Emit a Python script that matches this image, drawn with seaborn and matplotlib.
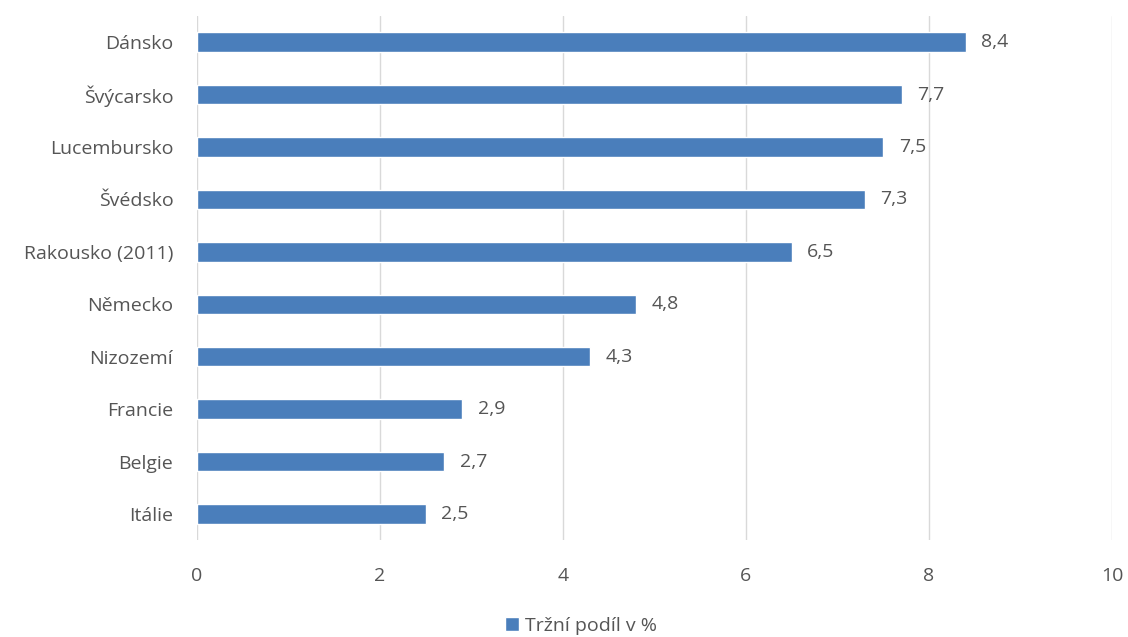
import matplotlib
matplotlib.use("Agg")
import matplotlib.pyplot as plt
import seaborn as sns
import pandas as pd
from matplotlib.patches import Patch

countries = ["Dánsko", "Švýcarsko", "Lucembursko", "Švédsko", "Rakousko (2011)",
             "Německo", "Nizozemí", "Francie", "Belgie", "Itálie"]
values = [8.4, 7.7, 7.5, 7.3, 6.5, 4.8, 4.3, 2.9, 2.7, 2.5]
series_name = "Tržní podíl v %"
x_ticks = [0, 2, 4, 6, 8, 10]

sns.set_theme(style="white")
plt.rcParams["font.family"] = ["Open Sans", "DejaVu Sans"]

df = pd.DataFrame({"country": countries, "value": values})
bar_color = "#4A7EBB"
text_color = "#555555"
fs = 14

fig = plt.figure(figsize=(11.28, 6.37), dpi=100)
ax = fig.add_axes([0.1746, 0.152, 0.8112, 0.823])

sns.barplot(data=df, y="country", x="value", color=bar_color, width=0.37,
            saturation=1, ax=ax, orient="h")

ax.set_xlim(0, 10)
ax.set_xticks(x_ticks)
ax.set_xticklabels([str(t) for t in x_ticks])
ax.xaxis.grid(True, color="#D9D9D9", linewidth=1)
ax.set_axisbelow(True)
for s in ax.spines.values():
    s.set_visible(False)
ax.set_xlabel("")
ax.set_ylabel("")
ax.tick_params(axis="both", length=0, colors=text_color, labelsize=fs)
ax.tick_params(axis="x", pad=19)
ax.tick_params(axis="y", pad=17)

for i, v in enumerate(values):
    ax.text(v + 0.17, i, f"{v:.1f}".replace(".", ","), va="center", ha="left",
            fontsize=fs, color=text_color)

fig.legend(handles=[Patch(facecolor=bar_color, label=series_name)],
           loc="center", bbox_to_anchor=(0.515, 0.018), frameon=False,
           fontsize=fs, labelcolor=text_color, handlelength=0.7,
           handleheight=0.7, handletextpad=0.3)

fig.savefig("out.png", dpi=100, facecolor="white")
